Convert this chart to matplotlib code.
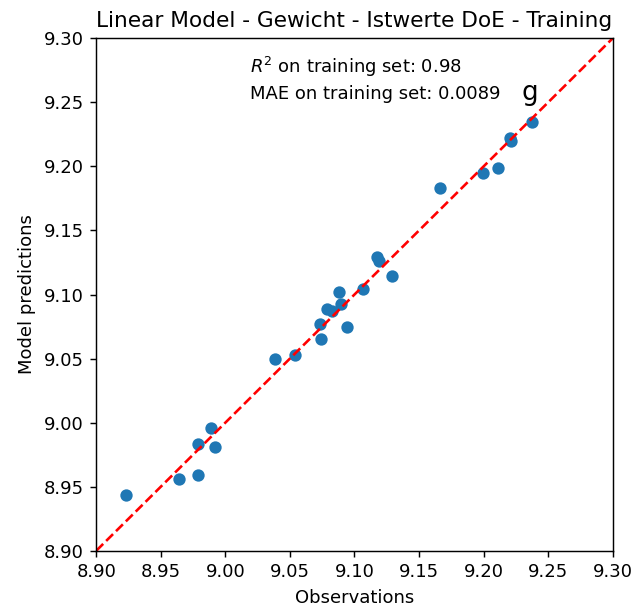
import numpy as np
import matplotlib
matplotlib.use("Agg")
import matplotlib.pyplot as plt

observations = [8.9228, 8.9639, 8.9786, 8.9786, 8.9888, 8.9922, 9.0383, 9.0537,
                9.0742, 9.0731, 9.0786, 9.0826, 9.0878, 9.0899, 9.0941, 9.1064,
                9.1174, 9.1187, 9.1289, 9.1661, 9.1999, 9.2109, 9.2203, 9.2216,
                9.2376]
predictions = [8.9434, 8.9560, 8.9592, 8.9832, 8.9956, 8.9806, 9.0497, 9.0526,
               9.0653, 9.0769, 9.0888, 9.0875, 9.1017, 9.0922, 9.0746, 9.1046,
               9.1289, 9.1263, 9.1142, 9.1828, 9.1952, 9.1984, 9.2221, 9.2200,
               9.2348]
r2 = 0.98
mae = 0.0089
lims = [8.90, 9.30]
ticks = [8.90, 8.95, 9.00, 9.05, 9.10, 9.15, 9.20, 9.25, 9.30]

dpi = 130
fig = plt.figure(figsize=(634/dpi, 609/dpi), dpi=dpi)
ax = fig.add_axes([96.3/634, 1 - 550.7/609, 516.4/634, 512.4/609])

ax.scatter(observations, predictions, s=34)
ax.plot(lims, lims, 'r--', lw=1.45)
ax.set_xlim(lims)
ax.set_ylim(lims)
ax.set_xticks(ticks)
ax.set_yticks(ticks)
ax.xaxis.set_major_formatter(matplotlib.ticker.FormatStrFormatter('%.2f'))
ax.yaxis.set_major_formatter(matplotlib.ticker.FormatStrFormatter('%.2f'))

ax.text(0.298, 0.967, "$R^2$ on training set: %.2f\nMAE on training set: %.4f" % (r2, mae),
        transform=ax.transAxes, va='top', ha='left', linespacing=1.4)
ax.text(0.84, 0.893, "g", transform=ax.transAxes, fontsize=14.5, ha='center', va='center',
        bbox=dict(facecolor='white', edgecolor='none', pad=1))

ax.set_xlabel("Observations")
ax.set_ylabel("Model predictions")
ax.set_title("Linear Model - Gewicht - Istwerte DoE - Training")

plt.savefig("out.png", dpi=dpi)
